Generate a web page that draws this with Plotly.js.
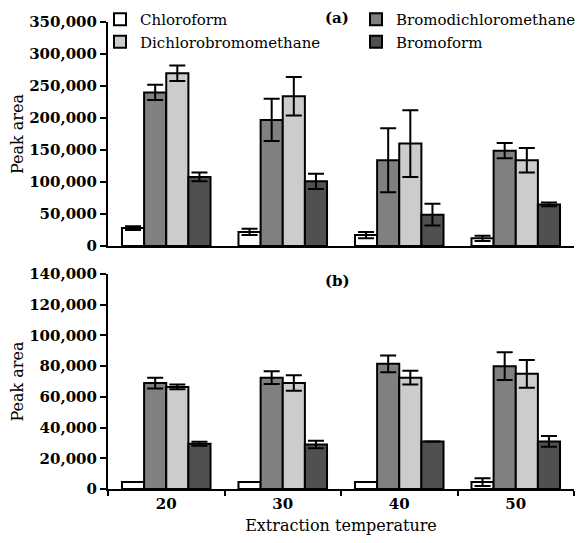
<!DOCTYPE html>
<html>
<head>
<meta charset="utf-8">
<script src="https://cdn.plot.ly/plotly-3.0.1.min.js"></script>
<style>html,body{margin:0;padding:0;background:#fff;}#chart{width:579px;height:543px;}</style>
</head>
<body>
<div id="chart"></div>
<script>
const temperatures = ['20', '30', '40', '50'];
const seriesNames = ['Chloroform', 'Bromodichloromethane', 'Dichlorobromomethane', 'Bromoform'];
const seriesColors = ['#ffffff', '#808080', '#cccccc', '#505050'];
const seriesLegend = ['legend', 'legend2', 'legend', 'legend2'];

// Panel (a)
const aChloroform = [28000, 22000, 17000, 12000];
const aChloroformErr = [3000, 5000, 5000, 4000];
const aBromodichloro = [240000, 197000, 134000, 149000];
const aBromodichloroErr = [12000, 33000, 50000, 12000];
const aDichlorobromo = [270000, 234000, 160000, 134000];
const aDichlorobromoErr = [12000, 30000, 52000, 19000];
const aBromoform = [108000, 101000, 49000, 65000];
const aBromoformErr = [7000, 12000, 17000, 3000];

// Panel (b)
const bChloroform = [4500, 4500, 4500, 4500];
const bChloroformErr = [0, 0, 0, 2500];
const bBromodichloro = [69000, 72500, 81500, 80000];
const bBromodichloroErr = [3500, 4200, 5500, 9000];
const bDichlorobromo = [66500, 69000, 72500, 75000];
const bDichlorobromoErr = [1500, 5000, 4500, 9000];
const bBromoform = [29500, 29000, 31000, 31000];
const bBromoformErr = [1300, 2500, 0, 3500];

const aVals = [aChloroform, aBromodichloro, aDichlorobromo, aBromoform];
const aErrs = [aChloroformErr, aBromodichloroErr, aDichlorobromoErr, aBromoformErr];
const bVals = [bChloroform, bBromodichloro, bDichlorobromo, bBromoform];
const bErrs = [bChloroformErr, bBromodichloroErr, bDichlorobromoErr, bBromoformErr];

const serif = 'DejaVu Serif, Liberation Serif, serif';
const traces = [];
function addPanel(vals, errs, xa, ya, showLegend) {
  for (let i = 0; i < seriesNames.length; i++) {
    traces.push({
      type: 'bar', name: seriesNames[i], x: temperatures, y: vals[i],
      xaxis: xa, yaxis: ya, showlegend: showLegend, legend: seriesLegend[i],
      marker: {color: seriesColors[i], line: {color: '#000', width: 2}},
      error_y: {type: 'data', array: errs[i], visible: true, color: '#000', thickness: 2, width: 8}
    });
  }
}
addPanel(aVals, aErrs, 'x', 'y', true);
addPanel(bVals, bErrs, 'x2', 'y2', false);

const W = 579, H = 543;
const xDom = [108 / W, 574 / W];
const legendBase = {orientation: 'v', y: 1 - 3 / H, xanchor: 'left', yanchor: 'top',
  font: {family: serif, size: 15, color: '#000'}, bgcolor: 'rgba(0,0,0,0)',
  tracegroupgap: 0, itemwidth: 30, borderwidth: 0};
const layout = {
  width: W, height: H,
  margin: {l: 0, r: 0, t: 0, b: 0, autoexpand: false},
  paper_bgcolor: '#fff', plot_bgcolor: '#fff',
  barmode: 'group', bargap: 0.24, bargroupgap: 0,
  font: {family: serif, color: '#000', size: 15},
  showlegend: true,
  legend: Object.assign({}, legendBase, {x: 100 / W}),
  legend2: Object.assign({}, legendBase, {x: 356 / W}),
  xaxis: {domain: xDom, anchor: 'y', type: 'category', range: [-0.5, 3.5],
    showline: true, linecolor: '#000', linewidth: 2, ticks: '', showticklabels: false,
    showgrid: false, zeroline: false, fixedrange: true},
  yaxis: {domain: [1 - 246 / H, 1 - 22 / H], anchor: 'x', range: [0, 350000], dtick: 50000,
    tickformat: ',d', showline: true, linecolor: '#000', linewidth: 2,
    ticks: 'outside', ticklen: 6, tickwidth: 2, tickcolor: '#000',
    tickfont: {family: serif, size: 15, color: '#000', weight: 'bold'},
    showgrid: false, zeroline: false, automargin: false,
    title: {text: 'Peak area', font: {family: serif, size: 16, color: '#000'}}},
  xaxis2: {domain: xDom, anchor: 'y2', type: 'category', range: [-0.5, 3.5],
    showline: true, linecolor: '#000', linewidth: 2, ticks: 'outside', tickson: 'boundaries',
    ticklen: 5, tickwidth: 2, tickcolor: '#000',
    tickfont: {family: serif, size: 15, color: '#000', weight: 'bold'},
    showgrid: false, zeroline: false, automargin: false,
    title: {text: 'Extraction temperature', standoff: 8, font: {family: serif, size: 16, color: '#000'}}},
  yaxis2: {domain: [1 - 489 / H, 1 - 274 / H], anchor: 'x2', range: [0, 140000], dtick: 20000,
    tickformat: ',d', showline: true, linecolor: '#000', linewidth: 2,
    ticks: 'outside', ticklen: 6, tickwidth: 2, tickcolor: '#000',
    tickfont: {family: serif, size: 15, color: '#000', weight: 'bold'},
    showgrid: false, zeroline: false, automargin: false,
    title: {text: 'Peak area', font: {family: serif, size: 16, color: '#000'}}},
  annotations: [
    {text: '(a)', xref: 'paper', yref: 'paper', x: 337 / W, y: 1 - 18 / H, xanchor: 'center', yanchor: 'middle', showarrow: false,
      font: {family: serif, size: 15, color: '#000', weight: 'bold'}},
    {text: '(b)', xref: 'paper', yref: 'paper', x: 337 / W, y: 1 - 281 / H, xanchor: 'center', yanchor: 'middle', showarrow: false,
      font: {family: serif, size: 15, color: '#000', weight: 'bold'}}
  ]
};
Plotly.newPlot('chart', traces, layout, {displayModeBar: false, staticPlot: true});
</script>
</body>
</html>
